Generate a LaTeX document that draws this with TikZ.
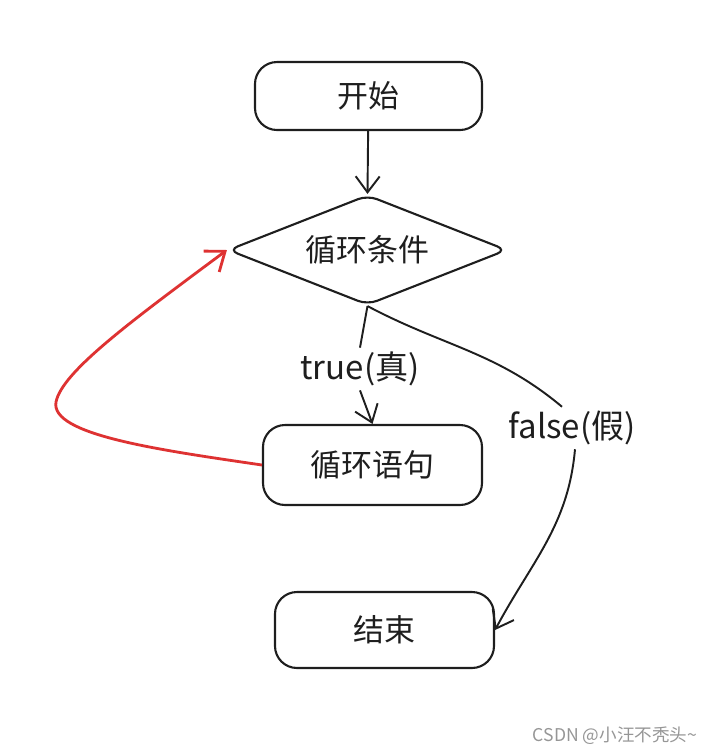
\documentclass[tikz,border=0pt]{standalone}
\usepackage{fontspec}
\setmainfont{Noto Sans CJK SC}
\usepackage{tikz}
\usetikzlibrary{arrows.meta,shapes.geometric}
\usepackage{xcolor}
\definecolor{ctrait}{RGB}{30,30,30}
\definecolor{crouge}{RGB}{222,50,50}
\definecolor{cgris}{RGB}{150,150,150}
\tikzset{
  boite/.style={draw=ctrait, line width=0.6pt, rounded corners=2.2mm, text=ctrait,
    font=\fontsize{8.8}{10}\selectfont},
  losange/.style={draw=ctrait, line width=0.6pt, diamond, aspect=2.5, rounded corners=1mm, text=ctrait,
    minimum width=2.79cm, minimum height=1.10cm, inner sep=0pt, font=\fontsize{8.8}{10}\selectfont},
  etiq/.style={text=ctrait, font=\fontsize{9.4}{10}\selectfont, inner sep=1pt},
  fleche/.style={draw=ctrait, line width=0.55pt, -{Straight Barb[length=1.6mm,width=2.4mm]}}
}

\begin{document}
\begin{tikzpicture}
\useasboundingbox (0,0) rectangle (7.21,-7.55);
\node[boite, minimum width=2.27cm, minimum height=0.68cm] (debut) at (3.685,-0.96) {开始};
\node[losange] (cond) at (3.675,-2.50) {循环条件};
\node[boite, minimum width=2.19cm, minimum height=0.80cm] (corps) at (3.725,-4.65) {循环语句};
\node[boite, minimum width=2.19cm, minimum height=0.76cm] (fin) at (3.845,-6.30) {结束};
\node[etiq] (vrai) at (3.60,-3.69) {true(真)};
\node[etiq] (faux) at (5.72,-4.28) {false(假)};
\node[text=cgris, font=\fontsize{5}{6}\selectfont, inner sep=0pt] (marque) at (6.15,-7.36) {CSDN @小汪不秃头\textasciitilde};
\draw[fleche] (debut) -- (cond.north);
\draw[draw=ctrait, line width=0.55pt] (cond.south) -- (vrai.north);
\draw[fleche] (vrai.south) -- (corps.north);
\draw[draw=ctrait, line width=0.55pt] (cond.south) to[out=-28,in=140] ([xshift=-1mm]faux.north);
\draw[fleche] ([xshift=0.3mm]faux.south) to[out=-95,in=62] (fin.east);
\draw[crouge, line width=0.8pt, -{Straight Barb[length=1.7mm,width=2.6mm]}]
  (corps.west) .. controls (1.6,-4.50) and (0.5,-4.35) .. (0.56,-4.02)
  .. controls (0.62,-3.72) and (1.3,-3.22) .. (cond.west);
\end{tikzpicture}
\end{document}
